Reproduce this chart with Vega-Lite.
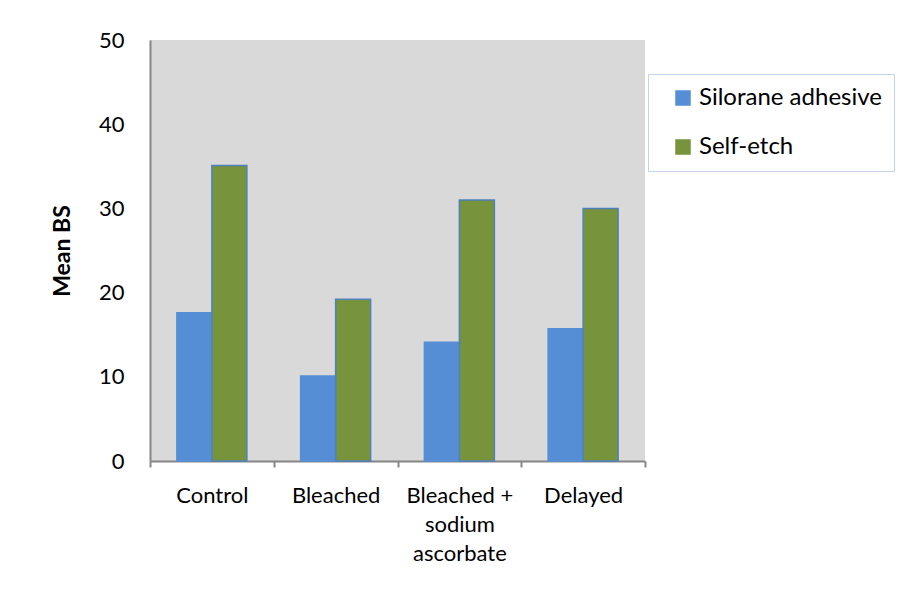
{
  "$schema": "https://vega.github.io/schema/vega-lite/v6.json",
  "width": 495,
  "height": 421,
  "autosize": {"type": "none"},
  "padding": {"left": 150, "top": 40, "right": 266, "bottom": 134},
  "background": "white",
  "data": {
    "values": [
      {"group": "Control", "adhesive": "Silorane adhesive", "bs": 17.6},
      {"group": "Control", "adhesive": "Self-etch", "bs": 35.1},
      {"group": "Bleached", "adhesive": "Silorane adhesive", "bs": 10.1},
      {"group": "Bleached", "adhesive": "Self-etch", "bs": 19.2},
      {"group": "Bleached + sodium ascorbate", "adhesive": "Silorane adhesive", "bs": 14.1},
      {"group": "Bleached + sodium ascorbate", "adhesive": "Self-etch", "bs": 31.0},
      {"group": "Delayed", "adhesive": "Silorane adhesive", "bs": 15.7},
      {"group": "Delayed", "adhesive": "Self-etch", "bs": 30.0}
    ]
  },
  "mark": {"type": "bar"},
  "encoding": {
    "x": {
      "field": "group",
      "type": "nominal",
      "sort": ["Control", "Bleached", "Bleached + sodium ascorbate", "Delayed"],
      "scale": {"paddingInner": 0, "paddingOuter": 0},
      "axis": {
        "title": null,
        "labelAngle": 0,
        "tickBand": "extent",
        "domainColor": "#868686",
        "domainWidth": 2,
        "tickColor": "#868686",
        "tickWidth": 2,
        "tickSize": 6,
        "labelFont": "Lato",
        "labelFontSize": 22,
        "labelColor": "#000000",
        "labelPadding": 18,
        "labelLineHeight": 29,
        "labelBaseline": "top",
        "labelExpr": "datum.label == 'Bleached + sodium ascorbate' ? ['Bleached +', 'sodium', 'ascorbate'] : datum.label"
      }
    },
    "xOffset": {
      "field": "adhesive",
      "type": "nominal",
      "sort": ["Silorane adhesive", "Self-etch"],
      "scale": {"paddingInner": 0, "paddingOuter": 0.768}
    },
    "y": {
      "field": "bs",
      "type": "quantitative",
      "scale": {"domain": [0, 50]},
      "axis": {
        "title": "Mean BS",
        "titleFont": "Lato",
        "titleFontSize": 23,
        "titleFontWeight": "bold",
        "titleColor": "#000000",
        "titlePadding": 24,
        "values": [0, 10, 20, 30, 40, 50],
        "grid": false,
        "ticks": false,
        "domainColor": "#868686",
        "domainWidth": 2,
        "labelFont": "Lato",
        "labelFontSize": 22,
        "labelColor": "#000000",
        "labelPadding": 26
      }
    },
    "color": {
      "field": "adhesive",
      "type": "nominal",
      "sort": ["Silorane adhesive", "Self-etch"],
      "scale": {"domain": ["Silorane adhesive", "Self-etch"], "range": ["#558ED5", "#77933C"]},
      "legend": {
        "title": null,
        "orient": "none",
        "legendX": 498,
        "legendY": 34,
        "fillColor": "white",
        "strokeColor": "#C5D3E8",
        "padding": 12,
        "symbolOffset": 11,
        "symbolType": "square",
        "symbolSize": 240,
        "symbolStrokeWidth": 0,
        "labelFont": "Lato",
        "labelFontSize": 24,
        "labelColor": "#000000",
        "labelOffset": 4,
        "labelLimit": 400,
        "rowPadding": 25
      }
    },
    "stroke": {
      "field": "adhesive",
      "type": "nominal",
      "scale": {"domain": ["Silorane adhesive", "Self-etch"], "range": ["#558ED5", "#4F81BD"]},
      "legend": null
    },
    "strokeWidth": {"value": 1.5}
  },
  "config": {
    "view": {"fill": "#D9D9D9", "stroke": null}
  }
}
